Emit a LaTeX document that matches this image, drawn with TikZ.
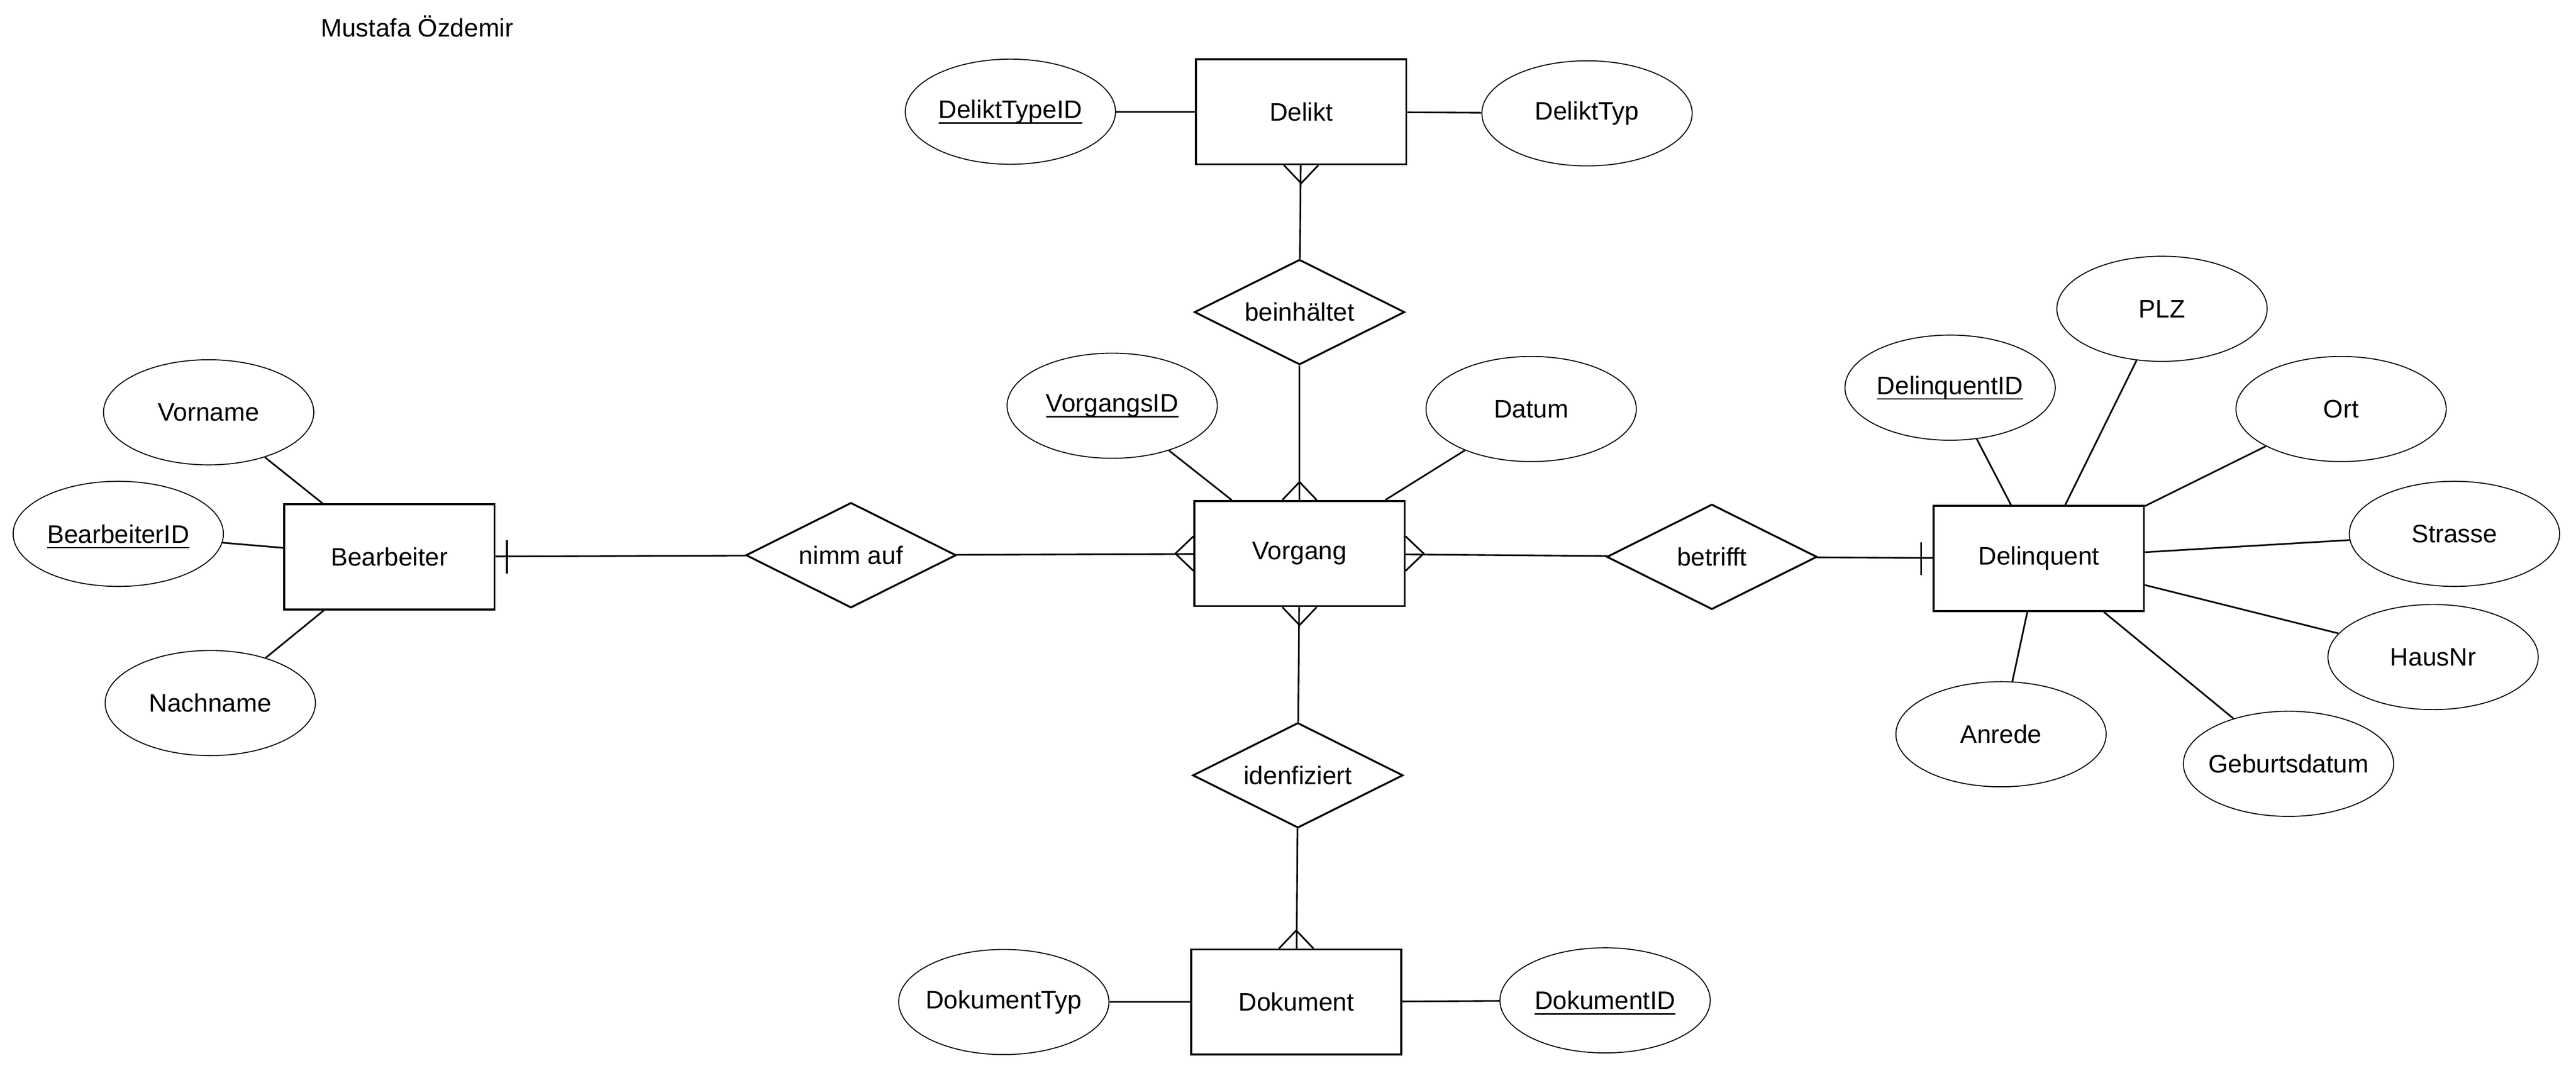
\documentclass[tikz,border=0pt]{standalone}
\usepackage{fontspec}
\setmainfont{Liberation Sans}
\usetikzlibrary{shapes.geometric}
\newcommand{\pkey}[1]{\setbox0\hbox{#1}\rlap{\smash{\rule[-3.3pt]{\wd0}{0.9pt}}}\box0}
\tikzset{
  entity/.style={draw, rectangle, line width=1.15pt, minimum width=128pt, minimum height=64pt, inner sep=0pt},
  relation/.style={draw, diamond, aspect=2, line width=1.15pt, minimum width=128pt, minimum height=64pt, inner sep=0pt},
  attr/.style={draw, ellipse, line width=0.6pt, minimum width=128pt, minimum height=64pt, inner xsep=-5pt, inner ysep=0pt},
  crowfoot/.pic={\draw (-10.5,0) -- (0,-11) -- (10.5,0);},
  onebar/.pic={\draw (-10,-7) -- (10,-7);}
}
\begin{document}
\begin{tikzpicture}[x=1pt,y=-1pt,line width=1pt,font=\fontsize{15.4pt}{18pt}\selectfont]
\useasboundingbox (0,0) rectangle (1568,653.2);
\node (autor) at (254,16) {Mustafa Özdemir};
\node[entity] (Delikt) at (792,68) {Delikt};
\node[entity] (Vorgang) at (791,337) {Vorgang};
\node[entity] (Bearbeiter) at (237,339) {Bearbeiter};
\node[entity] (Delinquent) at (1241,340) {Delinquent};
\node[entity] (Dokument) at (789,610) {Dokument};
\node[relation] (beinhaltet) at (791,190) {beinhältet};
\node[relation] (nimmauf) at (518,338) {nimm auf};
\node[relation] (betrifft) at (1042,339) {betrifft};
\node[relation] (idenfiziert) at (790,472) {idenfiziert};
\node[attr] (DeliktTypeID) at (615,68) {\pkey{DeliktTypeID}};
\node[attr] (DeliktTyp) at (966,69) {DeliktTyp};
\node[attr] (VorgangsID) at (677,247) {\pkey{VorgangsID}};
\node[attr] (Datum) at (932,249) {Datum};
\node[attr] (Vorname) at (127,251) {Vorname};
\node[attr] (BearbeiterID) at (72,325) {\pkey{BearbeiterID}};
\node[attr] (Nachname) at (128,428) {Nachname};
\node[attr] (DelinquentID) at (1187,236) {\pkey{DelinquentID}};
\node[attr] (PLZ) at (1316,188) {PLZ};
\node[attr] (Ort) at (1425,249) {Ort};
\node[attr] (Strasse) at (1494,325) {Strasse};
\node[attr] (HausNr) at (1481,400) {HausNr};
\node[attr] (Anrede) at (1218,447) {Anrede};
\node[attr] (Geburtsdatum) at (1393,465) {Geburtsdatum};
\node[attr] (DokumentTyp) at (611,610) {DokumentTyp};
\node[attr] (DokumentID) at (977,609) {\pkey{DokumentID}};
\draw (DeliktTypeID) -- (Delikt);
\draw (Delikt) -- (DeliktTyp);
\draw (VorgangsID) -- (Vorgang);
\draw (Datum) -- (Vorgang);
\draw (Vorname) -- (Bearbeiter);
\draw (BearbeiterID) -- (Bearbeiter);
\draw (Nachname) -- (Bearbeiter);
\draw (DelinquentID) -- (Delinquent);
\draw (PLZ) -- (Delinquent);
\draw (Ort) -- (Delinquent);
\draw (Strasse) -- (Delinquent);
\draw (HausNr) -- (Delinquent);
\draw (Anrede) -- (Delinquent);
\draw (Geburtsdatum) -- (Delinquent);
\draw (DokumentTyp) -- (Dokument);
\draw (Dokument) -- (DokumentID);
\draw (Delikt) -- (beinhaltet);
\draw (beinhaltet) -- (Vorgang);
\draw (Vorgang) -- (nimmauf);
\draw (nimmauf) -- (Bearbeiter);
\draw (Vorgang) -- (betrifft);
\draw (betrifft) -- (Delinquent);
\draw (Vorgang) -- (idenfiziert);
\draw (idenfiziert) -- (Dokument);
\pic[rotate=180] at (Delikt.south) {crowfoot};
\pic at (Vorgang.north) {crowfoot};
\pic[rotate=90] at (Vorgang.west) {crowfoot};
\pic[rotate=-90] at (Vorgang.east) {crowfoot};
\pic[rotate=180] at (Vorgang.south) {crowfoot};
\pic at (Dokument.north) {crowfoot};
\pic[rotate=-90] at (Bearbeiter.east) {onebar};
\pic[rotate=90] at (Delinquent.west) {onebar};
\end{tikzpicture}
\end{document}
